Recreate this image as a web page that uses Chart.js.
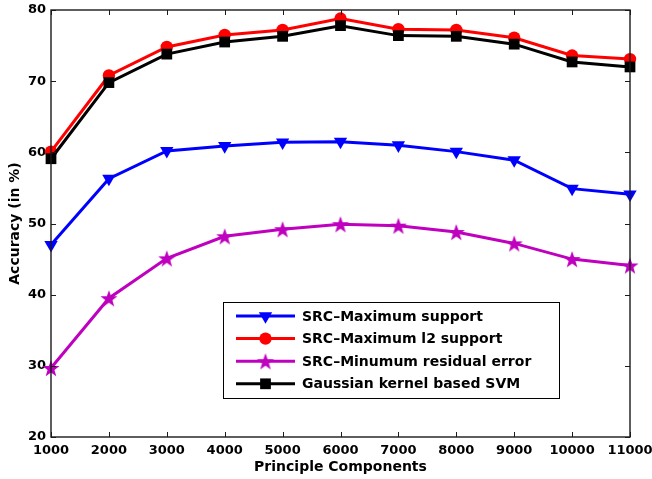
<!DOCTYPE html>
<html>
<head>
<meta charset="utf-8">
<script src="https://cdn.jsdelivr.net/npm/chart.js@4.4.1/dist/chart.umd.min.js"></script>
<style>
html,body{margin:0;padding:0;background:#fff;}
#wrap{width:652px;height:479px;position:relative;}
</style>
</head>
<body>
<div id="wrap"><canvas id="c" width="652" height="479"></canvas></div>
<script>
const components = [1000, 2000, 3000, 4000, 5000, 6000, 7000, 8000, 9000, 10000, 11000];
const maxSupport = [47.0, 56.3, 60.2, 60.9, 61.4, 61.5, 61.0, 60.1, 58.9, 54.9, 54.1];
const maxL2Support = [60.1, 70.8, 74.8, 76.5, 77.2, 78.8, 77.3, 77.2, 76.1, 73.6, 73.1];
const minResidual = [29.7, 39.5, 45.1, 48.2, 49.2, 49.9, 49.7, 48.8, 47.2, 45.0, 44.1];
const gaussianSVM = [59.1, 69.8, 73.8, 75.5, 76.3, 77.8, 76.4, 76.3, 75.2, 72.7, 72.0];
const seriesLabels = ['SRC\u2013Maximum support', 'SRC\u2013Maximum l2 support', 'SRC\u2013Minumum residual error', 'Gaussian kernel based SVM'];
const yTicks = [20, 30, 40, 50, 60, 70, 80];

const FONT = 'DejaVu Sans';
const MAGENTA = '#BF00BF';

function makeStar(color, R) {
  const s = Math.ceil(R * 2 + 2);
  const cv = document.createElement('canvas');
  cv.width = s; cv.height = s;
  const g = cv.getContext('2d');
  const cx = s / 2, cy = s / 2 + R * 0.1;
  const r = R * 0.4;
  g.beginPath();
  for (let i = 0; i < 10; i++) {
    const a = -Math.PI / 2 + i * Math.PI / 5;
    const rr = i % 2 === 0 ? R : r;
    const px = cx + rr * Math.cos(a), py = cy + rr * Math.sin(a);
    if (i === 0) g.moveTo(px, py); else g.lineTo(px, py);
  }
  g.closePath();
  g.fillStyle = color;
  g.fill();
  return cv;
}
const starImg = makeStar(MAGENTA, 9);

const toXY = (arr) => arr.map((v, i) => ({x: components[i], y: v}));

const datasets = [
  {label: seriesLabels[0], data: toXY(maxSupport), borderColor: '#0000FF', backgroundColor: '#0000FF',
   pointStyle: 'triangle', pointRotation: 180, pointRadius: 7.7, order: 3},
  {label: seriesLabels[1], data: toXY(maxL2Support), borderColor: '#FF0000', backgroundColor: '#FF0000',
   pointStyle: 'circle', pointRadius: 6.2, order: 2},
  {label: seriesLabels[2], data: toXY(minResidual), borderColor: MAGENTA, backgroundColor: MAGENTA,
   pointStyle: starImg, pointRadius: 9, order: 1},
  {label: seriesLabels[3], data: toXY(gaussianSVM), borderColor: '#000000', backgroundColor: '#000000',
   pointStyle: 'rect', pointRadius: 7.6, order: 0}
].map(d => Object.assign({borderWidth: 3, pointBorderWidth: 0, pointHoverRadius: d.pointRadius, tension: 0, clip: false, fill: false}, d));

const frame = {
  id: 'frame',
  afterDatasetsDraw(chart) {
    const {ctx, chartArea: a, scales: {x, y}} = chart;
    ctx.save();
    ctx.strokeStyle = '#1a1a1a';
    ctx.lineWidth = 1.4;
    ctx.strokeRect(a.left, a.top, a.right - a.left, a.bottom - a.top);
    ctx.lineWidth = 1;
    ctx.beginPath();
    const L = 5;
    components.forEach(v => {
      const px = Math.round(x.getPixelForValue(v)) + 0.5;
      ctx.moveTo(px, a.bottom); ctx.lineTo(px, a.bottom - L);
      ctx.moveTo(px, a.top); ctx.lineTo(px, a.top + L);
    });
    yTicks.forEach(v => {
      const py = Math.round(y.getPixelForValue(v)) + 0.5;
      ctx.moveTo(a.left, py); ctx.lineTo(a.left + L, py);
      ctx.moveTo(a.right, py); ctx.lineTo(a.right - L, py);
    });
    ctx.stroke();
    ctx.restore();
  },
  afterDraw(chart) {
    const {ctx} = chart;
    ctx.save();
    const bx = 223.5, by = 302.5, bw = 336, bh = 96;
    ctx.fillStyle = '#fff';
    ctx.fillRect(bx, by, bw, bh);
    ctx.strokeStyle = '#000';
    ctx.lineWidth = 1;
    ctx.strokeRect(bx, by, bw, bh);
    chart.data.datasets.forEach((d, i) => {
      const yy = 316 + i * 22.6;
      ctx.strokeStyle = d.borderColor;
      ctx.lineWidth = 3;
      ctx.beginPath();
      ctx.moveTo(236, yy); ctx.lineTo(295, yy);
      ctx.stroke();
      ctx.fillStyle = d.backgroundColor;
      Chart.helpers.drawPoint(ctx, {pointStyle: d.pointStyle, radius: d.pointRadius, rotation: d.pointRotation || 0, borderWidth: 0}, 265.5, yy);
      ctx.fillStyle = '#000';
      ctx.font = 'bold 14px "' + FONT + '"';
      ctx.textBaseline = 'middle';
      ctx.textAlign = 'left';
      ctx.fillText(d.label, 302, yy + 1);
    });
    ctx.restore();
  }
};

new Chart(document.getElementById('c'), {
  type: 'line',
  data: {datasets},
  options: {
    responsive: false,
    animation: false,
    devicePixelRatio: 1,
    layout: {padding: {left: 0, right: 22, top: 10, bottom: 0}},
    plugins: {legend: {display: false}, tooltip: {enabled: false}},
    scales: {
      x: {
        type: 'linear', min: 1000, max: 11000,
        grid: {display: false, drawTicks: false},
        border: {display: false},
        ticks: {stepSize: 1000, autoSkip: false, maxRotation: 0, padding: 6, color: '#000',
                font: {family: FONT, size: 13, weight: 'bold'}, callback: v => String(v)},
        title: {display: true, text: 'Principle Components', color: '#000',
                font: {family: FONT, size: 14, weight: 'bold'}, padding: {top: 0, bottom: 3}},
        afterFit(s) { s.height = 42; s.paddingLeft = 0; s.paddingRight = 0; }
      },
      y: {
        min: 20, max: 80,
        grid: {display: false, drawTicks: false},
        border: {display: false},
        ticks: {stepSize: 10, padding: 5, color: '#000',
                font: {family: FONT, size: 13, weight: 'bold'}},
        title: {display: true, text: 'Accuracy (in %)', color: '#000',
                font: {family: FONT, size: 14, weight: 'bold'}, padding: {top: 7, bottom: 0}},
        afterFit(s) { s.width = 51; s.paddingTop = 0; s.paddingBottom = 0; }
      }
    }
  },
  plugins: [frame]
});
</script>
</body>
</html>
